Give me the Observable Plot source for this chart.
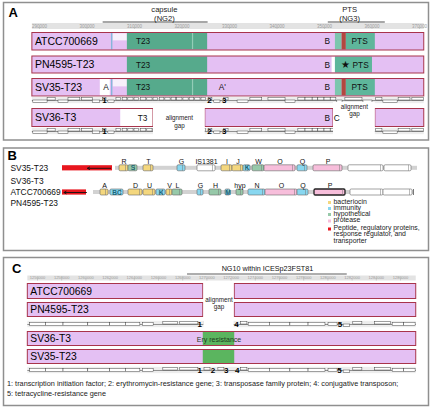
<!DOCTYPE html>
<html><head><meta charset="utf-8">
<script src="https://cdn.jsdelivr.net/npm/d3@7"></script>
<script src="https://cdn.jsdelivr.net/npm/@observablehq/plot@0.6"></script>
<style>
body{margin:0;background:#fff;}
#fig{position:relative;width:430px;height:408px;}
#fig>div{position:absolute;left:0;line-height:0;}
</style></head><body>
<div id="fig"><div id="pa" style="top:0px"></div><div id="pb" style="top:145px"></div><div id="pc" style="top:254px"></div></div>
<script>
// ================= DATA =================
// ---- Panel A (genome positions in kb) ----
const strainsA = ["ATCC700669", "PN4595-T23", "SV35-T23", "SV36-T3"];
const tickLabelsA = ["290000","300000","310000","320000","330000","340000","350000","360000","370000"];
const segmentsA = [
  ["ATCC700669", 288.5, 371.0], ["PN4595-T23", 288.5, 371.0], ["SV35-T23", 288.5, 371.0],
  ["SV36-T3", 288.5, 314.0], ["SV36-T3", 324.9, 351.9], ["SV36-T3", 360.7, 371.0]
];
const regionsA = [
  ["ATCC700669", 305.5, 308.5, "paleTop"], ["ATCC700669", 305.15, 305.45, "boundary"],
  ["ATCC700669", 308.5, 325.4, "T23"], ["ATCC700669", 322.2, 322.45, "stripe"],
  ["ATCC700669", 352.3, 353.7, "PTSedge"], ["ATCC700669", 353.7, 354.6, "junction"], ["ATCC700669", 354.6, 360.7, "PTS"],
  ["PN4595-T23", 308.5, 325.4, "T23"], ["PN4595-T23", 351.6, 352.3, "white"], ["PN4595-T23", 352.3, 360.1, "PTS"],
  ["SV35-T23", 302.8, 304.9, "white"], ["SV35-T23", 305.5, 308.5, "paleTop"], ["SV35-T23", 305.15, 305.45, "boundary"],
  ["SV35-T23", 308.5, 325.4, "T23"], ["SV35-T23", 322.2, 322.45, "stripe"],
  ["SV35-T23", 352.3, 353.7, "PTSedge"], ["SV35-T23", 353.7, 354.6, "junction"], ["SV35-T23", 354.6, 360.7, "PTS"],
  ["SV36-T3", 307.1, 314.0, "white"]
];
const gapsA = [["SV36-T3", 314.0, 324.9, "low"], ["SV36-T3", 351.9, 360.7, "high"]];
const labelsA = [
  ["ATCC700669", 311.8, "T23"], ["ATCC700669", 350.6, "B"], ["ATCC700669", 357.4, "PTS"],
  ["PN4595-T23", 311.8, "T23"], ["PN4595-T23", 350.6, "B"], ["PN4595-T23", 354.4, "★"], ["PN4595-T23", 357.6, "PTS"],
  ["SV35-T23", 304.0, "A"], ["SV35-T23", 311.8, "T23"], ["SV35-T23", 328.5, "A'"], ["SV35-T23", 350.6, "B"], ["SV35-T23", 357.4, "PTS"],
  ["SV36-T3", 311.7, "T3"], ["SV36-T3", 350.6, "B"], ["SV36-T3", 352.6, "C"]
];
const headersA = [["capsule", "(NG2)", 303.4, 325.5, 316.3], ["PTS", "(NG3)", 350.8, 362.8, 355.3]];
const genesA = [
  [288.7,291.7,"-"],[291.7,293.4,"+"],[294.0,296.1,"-"],[296.1,298.6,"+"],[299.0,301.2,"+"],[301.2,302.8,"-"],
  [303.4,304.1,"+"],[304.5,305.8,"-"],
  [306.2,307.2,"+"],[307.5,308.5,"+"],[308.7,309.8,"+"],[310.0,311.0,"+"],[311.3,312.5,"+"],[312.7,313.8,"+"],
  [314.0,315.0,"+"],[315.3,316.3,"+"],[316.5,317.6,"+"],[317.8,318.8,"+"],[319.0,320.1,"+"],[320.3,321.4,"+"],
  [321.6,322.6,"+"],[322.8,323.9,"+"],[324.1,325.1,"+"],
  [325.6,326.4,"+"],[326.8,328.1,"-"],[328.9,329.8,"+"],[331.7,334.0,"-"],[334.4,336.9,"+"],[338.2,341.8,"+"],
  [341.8,343.9,"-"],[344.5,346.0,"+"],[346.0,347.5,"+"],[347.5,348.7,"+"],[348.7,350.0,"+"],[350.0,351.3,"+"],
  [351.3,352.5,"+"],[352.7,353.8,"-"],[354.4,358.0,"+"],[358.2,360.1,"-"],[360.9,362.2,"+"],[362.4,365.4,"-"],
  [365.6,368.1,"+"],[368.5,371.0,"+"]
];
const geneNumsA = [["1", 303.7], ["2", 325.8], ["3", 328.9]];

// ---- Panel B (relative locus position, kb) ----
const strainLabelsB = ["SV35-T23", "SV36-T3", "ATCC700669", "PN4595-T23"];
const locusB = [["SV35-T23", 5.3, 35.5], ["others", 3.1, 35.1]];
const deletionB = [["SV35-T23", 0, 5.0], ["others", 0, 2.4]];
const arrowsB = [["SV35-T23", 4.8, 2.5], ["others", 2.4, 0.15]];
const genesB1 = [
  ["R",5.7,6.6,"bacteriocin","above"],["S",6.6,7.5,"hypothetical","inside"],["T",8.1,9.1,"bacteriocin","above"],
  ["G",11.5,12.3,"immunity","above"],["IS1381",13.5,15.3,"other","above"],["I",15.9,17.0,"bacteriocin","above"],
  ["J",17.0,18.1,"bacteriocin","above"],["K",18.1,18.8,"immunity","inside"],["W",19.0,20.2,"hypothetical","above"],
  ["O",20.2,23.3,"protease","above"],["Q",23.5,24.5,"immunity","above"],["P",25.1,28.0,"protease","above"],
  ["",28.6,32.1,"other","none"],["",32.2,34.9,"other","none"]
];
const genesB2 = [
  ["A",3.8,4.6,"bacteriocin","above"],["BC",4.8,6.1,"immunity","inside"],["D",6.6,8.0,"bacteriocin","above"],
  ["U",8.1,9.3,"bacteriocin","above"],["K",9.4,10.3,"immunity","inside"],["V",10.4,11.0,"bacteriocin","above"],
  ["L",11.0,12.0,"hypothetical","above"],["G",13.5,14.1,"immunity","above"],["H",14.7,15.9,"hypothetical","above"],
  ["M",16.3,16.8,"immunity","inside"],["hyp",17.4,18.1,"hypothetical","above"],["N",18.6,20.3,"immunity","above"],
  ["O",20.3,23.5,"protease","above"],["Q",23.5,24.6,"immunity","above"],["P",25.2,28.3,"protease","above","hl"],
  ["",28.8,32.1,"other","none"],["",32.1,35.0,"other","none"]
];
const legendB = [
  ["bacteriocin", "bacteriocin"], ["immunity", "immunity"], ["hypothetical", "hypothetical"], ["protease", "protease"],
  ["peptide", "Peptide, regulatory proteins,\nresponse regulator, and\ntransporter"]
];

// ---- Panel C (genome positions in kb) ----
const strainsC = ["ATCC700669", "PN4595-T23", "SV36-T3", "SV35-T23"];
const tickLabelsC = ["1256000","1258000","1260000","1262000","1264000","1266000","1268000","1270000",
  "1272000","1274000","1276000","1278000","1280000","1282000","1284000","1286000"];
const segmentsC = [
  ["ATCC700669", 1255.2, 1269.7], ["ATCC700669", 1272.3, 1287.3],
  ["PN4595-T23", 1255.2, 1269.7], ["PN4595-T23", 1272.3, 1287.3],
  ["SV36-T3", 1255.2, 1287.3], ["SV35-T23", 1255.2, 1287.3]
];
const eryC = [["SV36-T3", 1269.7, 1272.3], ["SV35-T23", 1269.7, 1272.3]];
const headerC = ["NG10 within ICESp23FST81", 1268.4, 1281.6, 1275.0];
const genesC = [
  [1255.4,1256.7,"0"],[1256.7,1258.15,"0"],[1258.15,1260.2,"0"],[1260.2,1262.0,"0"],[1262.0,1263.3,"0"],
  [1263.3,1264.5,"0"],[1264.7,1265.6,"0"],[1266.4,1267.6,"+"],[1267.8,1269.3,"+"],
  [1269.8,1270.3,"+"],[1270.95,1271.45,"+"],
  [1272.8,1273.35,"+"],[1273.45,1275.2,"0"],[1275.2,1276.9,"0"],[1276.9,1278.4,"0"],[1278.4,1279.8,"0"],
  [1280.05,1280.8,"0"],[1281.3,1281.85,"-"],[1282.1,1282.85,"+"],[1283.9,1285.2,"+"],[1285.35,1286.3,"0"],[1286.3,1287.25,"0"]
];
const geneNumsC1 = [["1", 1269.4], ["4", 1272.45], ["5", 1281.0]];
const geneNumsC2 = [["1", 1269.4], ["2", 1270.5], ["3", 1271.6], ["4", 1272.5], ["5", 1280.95]];
const footnotesC = [
  "1: transcription initiation factor; 2: erythromycin-resistance gene; 3: transposase family protein; 4: conjugative transposon;",
  "5: tetracycline-resistance gene"
];

// ================= STYLE =================
const FONT = "'Liberation Sans', Arial, Helvetica, sans-serif";
const PINK = "#e4c0f3", OUTLINE = "#a8344c", BORDER = "#8f8f8f";
const regionFill = {T23: "#56aa8c", PTS: "#5eb69b", PTSedge: "#7cc6ae", junction: "#b3473f",
  boundary: "#86b6da", white: "#ffffff", paleTop: "#f7f0fb", stripe: "#93cdb7"};
const typeColor = {bacteriocin: "#f4d77e", immunity: "#88d7f0", hypothetical: "#97c9a9",
  protease: "#f7bedb", other: "#ffffff", peptide: "#e8161e"};

function base(top, H, xdom, xrange, marks) {
  return Plot.plot({
    width: 430, height: H, margin: 0,
    x: {domain: xdom, range: xrange, axis: null},
    y: {domain: [top, top + H], range: [0, H], axis: null},
    style: {fontFamily: FONT, background: "transparent", overflow: "visible"},
    marks
  });
}
const frame = (t, b) => Plot.frame({stroke: BORDER, strokeWidth: 1.5, insetLeft: 3, insetRight: 2, insetTop: t, insetBottom: b});

function geneTrack(genes, yc, x0, x1, h) {
  const boxes = genes.map(([s, e, str]) => ({s, e,
    y1: str === "+" ? yc - h : str === "-" ? yc : yc - h / 1.6,
    y2: str === "+" ? yc : str === "-" ? yc + h : yc + h / 1.6}));
  return [
    Plot.rect([0], {x1: () => x0, x2: () => x1, y1: () => yc - 3.2, y2: () => yc + 3.2, fill: "#ededed"}),
    Plot.ruleY([yc], {y: d => d, x1: () => x0, x2: () => x1, stroke: "#444", strokeWidth: 0.55}),
    Plot.rect(boxes, {x1: "s", x2: "e", y1: "y1", y2: "y2", fill: "#fff", stroke: "#333", strokeWidth: 0.45})
  ];
}

// ================= PANEL A =================
(function () {
  const top = 0, H = 141;
  const rows = {"ATCC700669": [32.5, 50], "PN4595-T23": [56, 73], "SV35-T23": [78.5, 96], "SV36-T3": [108.5, 126.5]};
  const mid = s => (rows[s][0] + rows[s][1]) / 2;
  const tracks = [100, 131];
  const ticks = tickLabelsA.map(l => ({kb: +l / 1000, label: l}));
  const x0 = segmentsA[0][1], x1 = segmentsA[0][2];
  const regY = (r, which) => {
    const [a, b] = rows[r[0]];
    if (r[3] === "paleTop") return which ? a + 0.45 * (b - a) : a + 0.8;
    return which ? b - 0.5 : a + 0.5;
  };
  const marks = [
    frame(2, 1.5),
    Plot.rect([0], {x1: () => x0, x2: () => x1, y1: () => 23, y2: () => 29, fill: "#e3e3e3"}),
    Plot.ruleX(ticks, {x: "kb", y1: () => 27, y2: () => 29, stroke: "#aaa", strokeWidth: 0.5}),
    Plot.text(ticks, {x: "kb", y: () => 25.6, text: "label", fontSize: 4.5, fill: "#9a9a9a"}),
    Plot.ruleY(headersA, {y: () => 21.5, x1: d => d[2], x2: d => d[3], stroke: "#8a8a8a", strokeWidth: 1.3}),
    Plot.text(headersA, {x: d => d[4], y: () => 9.5, text: d => d[0], fontSize: 7.6, fill: "#222"}),
    Plot.text(headersA, {x: d => d[4], y: () => 18, text: d => d[1], fontSize: 7.6, fill: "#222"}),
    Plot.rect(segmentsA, {x1: d => d[1], x2: d => d[2], y1: d => rows[d[0]][0], y2: d => rows[d[0]][1], fill: PINK}),
    Plot.rect(regionsA, {x1: d => d[1], x2: d => d[2], y1: d => regY(d, 0), y2: d => regY(d, 1), fill: d => regionFill[d[3]]}),
    Plot.rect(segmentsA, {x1: d => d[1], x2: d => d[2], y1: d => rows[d[0]][0], y2: d => rows[d[0]][1], fill: "none", stroke: OUTLINE, strokeWidth: 1}),
    ...geneTrack(genesA, tracks[0], x0, x1, 2.6),
    ...geneTrack(genesA, tracks[1], x0, x1, 2.6),
    Plot.rect(gapsA, {x1: d => d[1], x2: d => d[2], y1: d => d[3] === "low" ? 104 : 102, y2: () => 138, fill: "#fff"}),
    Plot.text(gapsA, {x: d => (d[1] + d[2]) / 2, y: d => d[3] === "low" ? 117 : 106, text: () => "alignment", fontSize: 6.3, fill: "#222"}),
    Plot.text(gapsA, {x: d => (d[1] + d[2]) / 2, y: d => d[3] === "low" ? 125.5 : 113.5, text: () => "gap", fontSize: 6.3, fill: "#222"}),
    Plot.text(tracks.flatMap(t => geneNumsA.map(g => ({t, n: g[0], kb: g[1]}))), {x: "kb", y: "t", text: "n", fontSize: 8, fontWeight: "bold", fill: "#000"}),
    Plot.text(labelsA, {x: d => d[1], y: d => mid(d[0]), text: d => d[2], fontSize: d => d[2] === "★" ? 10 : 8.3, fill: "#111"}),
    Plot.text(strainsA, {x: () => x0, dx: 2.5, y: d => mid(d), text: d => d, textAnchor: "start", fontSize: 10.5, fill: "#000"}),
    Plot.text(["A"], {frameAnchor: "top-left", dx: 8, dy: 12.5, text: d => d, textAnchor: "start", lineAnchor: "middle", fontSize: 13, fontWeight: "bold"})
  ];
  document.getElementById("pa").appendChild(base(top, H, [290, 370], [39, 419], marks));
})();

// ================= PANEL B =================
(function () {
  const top = 145, H = 107;
  const yRow = {"SV35-T23": 167.8, others: 192};
  const labelY = [167.3, 181, 192, 202.5];
  const legendY = [202, 208, 214, 220.5, 228.5];
  const genes = [...genesB1.map(g => ({g, y: yRow["SV35-T23"]})), ...genesB2.map(g => ({g, y: yRow.others}))];
  const marks = [
    frame(2.5, 2),
    Plot.rect(locusB, {x1: d => d[1], x2: d => d[2], y1: d => yRow[d[0]] - 2, y2: d => yRow[d[0]] + 2, fill: "#d2d2d2"}),
    Plot.ruleX([locusB[1]], {x: d => d[2], y1: d => yRow[d[0]] - 3, y2: d => yRow[d[0]] + 3, stroke: "#555", strokeWidth: 0.8}),
    Plot.rect(deletionB, {x1: d => d[1], x2: d => d[2], y1: d => yRow[d[0]] - 2.6, y2: d => yRow[d[0]] + 2.6, fill: typeColor.peptide}),
    Plot.arrow(arrowsB, {x1: d => d[1], x2: d => d[2], y1: d => yRow[d[0]], y2: d => yRow[d[0]], stroke: "#111", strokeWidth: 0.9, headLength: 4, bend: 0}),
    Plot.rect(genes, {x1: d => d.g[1], x2: d => d.g[2], y1: d => d.y - 3, y2: d => d.y + 3, rx: 1.2,
      fill: d => typeColor[d.g[3]], stroke: d => d.g[5] ? "#222" : "#666", strokeWidth: d => d.g[5] ? 1.3 : 0.6}),
    Plot.ruleX(genes, {x: d => d.g[2] - 0.3, y1: d => d.y - 3, y2: d => d.y + 3, stroke: "#777", strokeWidth: 0.5}),
    Plot.text(genes.filter(d => d.g[4] === "above"), {x: d => (d.g[1] + d.g[2]) / 2, y: d => d.y - 7, text: d => d.g[0], fontSize: 7, fill: "#111"}),
    Plot.text(genes.filter(d => d.g[4] === "inside"), {x: d => (d.g[1] + d.g[2]) / 2, y: d => d.y, text: d => d.g[0], fontSize: 6.6, fontWeight: "bold", fill: "#1d6677"}),
    Plot.text(strainLabelsB, {frameAnchor: "left", dx: 10, y: (d, i) => labelY[i], text: d => d, textAnchor: "start", fontSize: 8.4, fill: "#111"}),
    Plot.dot(legendB, {x: () => 26.7, y: (d, i) => legendY[i], symbol: "square", r: 1.7, fill: d => typeColor[d[0]], stroke: "none"}),
    Plot.text(legendB, {x: () => 27.1, y: (d, i) => legendY[i], text: d => d[1], textAnchor: "start", lineAnchor: "top", dy: -3.2, lineHeight: 0.9, fontSize: 6.9, fill: "#222"}),
    Plot.text(["B"], {frameAnchor: "top-left", dx: 7, dy: 10.5, text: d => d, textAnchor: "start", lineAnchor: "middle", fontSize: 13, fontWeight: "bold"})
  ];
  document.getElementById("pb").appendChild(base(top, H, [0, 36], [62, 422], marks));
})();

// ================= PANEL C =================
(function () {
  const top = 254, H = 154;
  const rows = {"ATCC700669": [283.5, 298.5], "PN4595-T23": [302.5, 316.5], "SV36-T3": [331.5, 345.5], "SV35-T23": [349.5, 363.5]};
  const mid = s => (rows[s][0] + rows[s][1]) / 2;
  const tracks = [324, 370];
  const ticks = tickLabelsC.map(l => ({kb: +l / 1000, label: l}));
  const x0 = 1255.2, x1 = 1287.3;
  const gap = [segmentsC[0][2], segmentsC[1][1]];
  const marks = [
    frame(3, 3),
    Plot.rect([0], {x1: () => x0, x2: () => x1, y1: () => 275.5, y2: () => 280.5, fill: "#e3e3e3"}),
    Plot.ruleX(ticks, {x: "kb", y1: () => 278.5, y2: () => 280.5, stroke: "#aaa", strokeWidth: 0.5}),
    Plot.text(ticks, {x: "kb", y: () => 277.3, text: "label", fontSize: 4, fill: "#9a9a9a"}),
    Plot.ruleY([headerC], {y: () => 273.5, x1: d => d[1], x2: d => d[2], stroke: "#333", strokeWidth: 0.8}),
    Plot.text([headerC], {x: d => d[3], y: () => 268, text: d => d[0], fontSize: 7.2, fill: "#111"}),
    Plot.rect(segmentsC, {x1: d => d[1], x2: d => d[2], y1: d => rows[d[0]][0], y2: d => rows[d[0]][1], fill: PINK}),
    Plot.rect(eryC, {x1: d => d[1], x2: d => d[2], y1: d => rows[d[0]][0], y2: d => rows[d[0]][1], fill: "#5bb55f"}),
    Plot.rect(segmentsC, {x1: d => d[1], x2: d => d[2], y1: d => rows[d[0]][0], y2: d => rows[d[0]][1], fill: "none", stroke: OUTLINE, strokeWidth: 1}),
    ...geneTrack(genesC, tracks[0], x0, x1, 2.6),
    ...geneTrack(genesC, tracks[1], x0, x1, 2.6),
    Plot.rect([gap], {x1: d => d[0] + 0.05, x2: d => d[1] - 0.05, y1: () => 282, y2: () => 327.5, fill: "#fff"}),
    Plot.text(["alignment", "gap"], {x: () => (gap[0] + gap[1]) / 2, y: (d, i) => i ? 306 : 299.3, text: d => d, fontSize: 6.3, fill: "#222"}),
    Plot.text(eryC.slice(0, 1), {x: d => (d[1] + d[2]) / 2, y: d => mid(d[0]) + 0.5, text: () => "Ery resistance", fontSize: 7, fill: "#1e3a1e"}),
    Plot.text(geneNumsC1, {x: d => d[1], y: () => tracks[0], text: d => d[0], fontSize: 8, fontWeight: "bold"}),
    Plot.text(geneNumsC2, {x: d => d[1], y: () => tracks[1], text: d => d[0], fontSize: 8, fontWeight: "bold"}),
    Plot.text(strainsC, {x: () => x0, dx: 2.5, y: d => mid(d), text: d => d, textAnchor: "start", fontSize: 10.3, fill: "#000"}),
    Plot.text(footnotesC, {frameAnchor: "left", dx: 6.5, y: (d, i) => i ? 393.3 : 383.3, text: d => d, textAnchor: "start", fontSize: 7.3, fill: "#222"}),
    Plot.text(["C"], {frameAnchor: "top-left", dx: 11.5, dy: 14, text: d => d, textAnchor: "start", lineAnchor: "middle", fontSize: 13, fontWeight: "bold"})
  ];
  document.getElementById("pc").appendChild(base(top, H, [1256, 1286], [37, 400], marks));
})();
</script>
</body></html>
